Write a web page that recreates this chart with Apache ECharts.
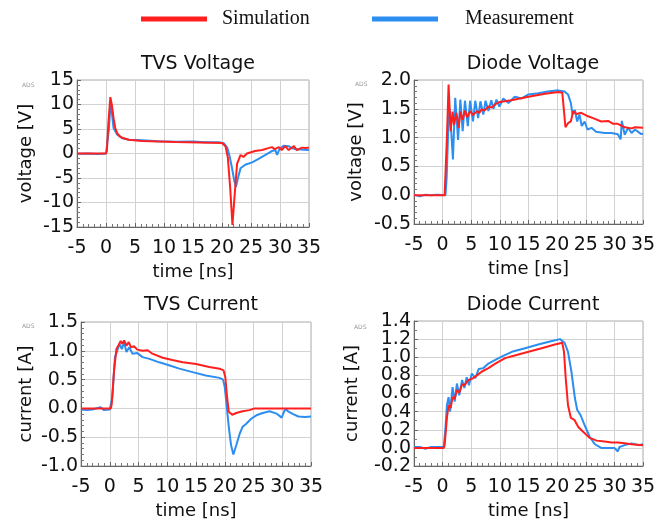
<!DOCTYPE html>
<html>
<head>
<meta charset="utf-8">
<script src="https://cdn.jsdelivr.net/npm/echarts@6/dist/echarts.min.js"></script>
<style>html,body{margin:0;padding:0;background:#fff;}#c{width:670px;height:525px;}</style>
</head>
<body>
<div id="c"></div>
<script>
// ---------- data ----------
const seriesNames = ['Simulation', 'Measurement'];
const panelTitles = ['TVS Voltage', 'Diode Voltage', 'TVS Current', 'Diode Current'];
const yNames = ['voltage [V]', 'voltage [V]', 'current [A]', 'current [A]'];
const xName = 'time [ns]';
const xRange = [-5, 35, 5];
const yRanges = [[-15, 15, 5], [-0.5, 2, 0.5], [-1, 1.5, 0.5], [-0.2, 1.4, 0.2]];

const tvsV_sim = [[-5,0],[0,0],[0.15,0.5],[0.4,6],[0.75,11.5],[1.0,10],[1.3,7.2],[1.6,5.2],[1.9,4.2],[2.3,3.6],[2.8,3.2],[3.9,2.8],[6.2,2.55],[9,2.45],[12,2.35],[16,2.25],[20,2.15],[20.6,1.5],[21,-0.8],[21.4,-6.8],[21.8,-14.6],[22.2,-8.2],[22.6,-2.1],[23.2,-0.3],[23.7,-0.7],[24.3,0],[25.7,0.5],[26.9,0.7],[28,1.1],[28.6,1.3],[29.1,0.9],[29.8,1.3],[30.3,0.7],[30.9,1.5],[31.5,0.7],[32.4,1.5],[32.9,0.7],[33.8,1.2],[34.4,1.1],[35,1.2]];
const tvsV_meas = [[-5,-0.05],[-3,0],[-1.5,-0.1],[0,0],[0.2,0.3],[0.5,5],[0.8,10.6],[1.0,8.5],[1.3,5.2],[1.9,3.9],[2.8,3.1],[4,2.8],[6.2,2.7],[9,2.5],[12,2.4],[15,2.45],[17,2.3],[19.4,2.3],[20.3,2.1],[20.9,1.2],[21.3,-0.5],[21.7,-2.8],[22.1,-5.5],[22.4,-6.8],[22.8,-4.8],[23.2,-3],[24,-2.3],[25.2,-1.8],[26.3,-1.1],[27.5,-0.3],[28.6,0.5],[29.2,0.7],[29.5,-0.3],[29.9,0.9],[30.6,1.6],[31.5,1.5],[32,1.1],[32.6,0.9],[33.5,0.8],[35,0.7]];

const diodeV_sim = [[-5,0],[0.35,0],[0.75,1.0],[1.04,1.92],[1.4,1.11],[1.74,1.45],[2.0,1.22],[2.4,1.43],[2.8,1.17],[3.1,1.45],[3.5,1.31],[3.9,1.47],[4.3,1.35],[4.8,1.46],[5.3,1.39],[6,1.46],[6.4,1.43],[6.8,1.49],[7.3,1.47],[8,1.54],[8.5,1.52],[9.2,1.58],[10,1.62],[12,1.65],[15,1.71],[17.9,1.76],[20.2,1.79],[20.9,1.78],[21.2,1.46],[21.45,1.18],[21.9,1.25],[22.4,1.28],[22.8,1.46],[23.4,1.41],[24.2,1.43],[25.4,1.37],[26.5,1.33],[27.7,1.28],[28.9,1.29],[29.8,1.24],[30.6,1.24],[31.8,1.18],[33,1.16],[33.6,1.18],[35,1.17]];
const diodeV_meas = [[-5,0.01],[-4,-0.02],[-3,0.01],[-2,0],[-1,0.01],[0.5,0],[0.7,0.3],[1.0,1.2],[1.2,1.51],[1.5,1.11],[1.8,0.62],[2.2,1.69],[2.7,0.96],[3.1,1.66],[3.5,1.11],[3.9,1.64],[4.4,1.2],[4.8,1.64],[5.3,1.28],[5.7,1.64],[6.2,1.34],[6.6,1.63],[7.1,1.40],[7.5,1.64],[8.0,1.46],[8.5,1.65],[8.9,1.50],[9.4,1.66],[9.9,1.54],[10.6,1.68],[11.5,1.60],[12.6,1.71],[13.8,1.68],[15,1.75],[16.7,1.77],[18.4,1.80],[20.2,1.82],[21.3,1.80],[21.9,1.75],[22.4,1.60],[22.7,1.40],[23.1,1.48],[23.5,1.28],[23.9,1.40],[24.3,1.20],[24.8,1.28],[25.3,1.14],[26,1.17],[26.8,1.10],[28.3,1.08],[29.5,1.08],[30.6,1.06],[31.1,0.97],[31.3,1.29],[31.8,1.05],[32.4,1.17],[33,1.08],[33.6,1.14],[34.7,1.06],[35,1.07]];

const tvsI_sim = [[-5,0],[0.2,0],[0.35,0.08],[0.75,0.66],[1.16,1.03],[1.5,1.09],[1.9,1.17],[2.2,1.12],[2.5,1.18],[2.9,1.09],[3.3,1.15],[3.7,1.06],[4.2,1.08],[4.8,1.02],[5.7,1.0],[6.6,1.01],[7.4,0.95],[9.2,0.88],[10.9,0.84],[12.7,0.80],[15,0.77],[17.3,0.72],[19.1,0.69],[19.8,0.66],[20.1,0.54],[20.4,0.20],[20.7,-0.06],[21.3,-0.11],[22,-0.08],[23.1,-0.05],[24.3,-0.03],[25.2,0],[35,0]];
const tvsI_meas = [[-5,-0.02],[-4,-0.03],[-3,-0.02],[-1.6,0.02],[-1,-0.03],[0,-0.02],[0.45,0.2],[0.9,0.89],[1.3,1.0],[1.7,1.12],[2.1,1.03],[2.5,1.15],[2.9,0.98],[3.4,1.06],[3.95,0.95],[4.8,0.96],[5.7,0.89],[6.9,0.86],[8.6,0.80],[10.3,0.75],[12.1,0.69],[14.4,0.63],[16.7,0.57],[19.1,0.53],[19.7,0.50],[20,0.37],[20.3,0.08],[20.7,-0.32],[21.1,-0.64],[21.5,-0.80],[22,-0.64],[22.6,-0.44],[23.1,-0.32],[23.7,-0.27],[24.6,-0.18],[25.5,-0.12],[26.6,-0.08],[27.8,-0.05],[29,-0.09],[29.9,-0.16],[30.3,-0.06],[30.6,-0.01],[31,-0.05],[31.9,-0.10],[32.8,-0.14],[34,-0.15],[35,-0.14]];

const diodeI_sim = [[-5,0],[0.2,0],[0.35,0.03],[0.75,0.33],[1.04,0.47],[1.4,0.44],[1.74,0.56],[2.1,0.54],[2.5,0.64],[2.9,0.61],[3.4,0.70],[3.8,0.69],[4.5,0.75],[5.1,0.76],[6,0.80],[6.8,0.84],[8,0.88],[9.2,0.93],[10.9,0.99],[12.6,1.02],[15,1.06],[17.3,1.10],[19.6,1.14],[20.9,1.16],[21.2,1.06],[21.5,0.77],[21.9,0.47],[22.4,0.33],[23,0.31],[23.7,0.23],[24.5,0.18],[25.7,0.11],[26.9,0.08],[28.3,0.07],[29.5,0.06],[30.6,0.06],[31.8,0.05],[33,0.04],[35,0.03]];
const diodeI_meas = [[-5,0.01],[-4,0.01],[-3,-0.01],[-2,0.01],[-1,0.01],[0.2,0.01],[0.5,0.22],[0.75,0.47],[1.04,0.56],[1.3,0.40],[1.74,0.67],[2.1,0.51],[2.5,0.71],[2.9,0.58],[3.4,0.75],[3.8,0.66],[4.2,0.78],[4.6,0.69],[5.1,0.82],[5.7,0.77],[6.3,0.87],[7.1,0.88],[8,0.93],[9.2,0.97],[10.4,1.01],[12.1,1.06],[14.4,1.10],[16.7,1.14],[19.1,1.18],[20.5,1.20],[21.3,1.16],[21.9,1.06],[22.5,0.84],[23.1,0.55],[23.5,0.42],[24.1,0.36],[24.8,0.25],[25.7,0.12],[26.6,0.04],[27.7,0.0],[28.9,0.0],[30,0.0],[30.6,-0.04],[30.9,0.01],[31.8,0.03],[33,0.05],[34.2,0.03],[35,0.04]];

const simData = [tvsV_sim, diodeV_sim, tvsI_sim, diodeI_sim];
const measData = [tvsV_meas, diodeV_meas, tvsI_meas, diodeI_meas];

// ---------- layout / style ----------
const RED = '#ff1f1f', BLUE = '#2b8ef0';
const grids = [
  {left: 77, top: 80, width: 232, height: 147},
  {left: 414, top: 80, width: 229, height: 144},
  {left: 81, top: 322, width: 230, height: 144},
  {left: 414, top: 321, width: 229, height: 145}
];
const yNameGaps = [42, 49, 46, 53];
const titleCenters = [[193, 50], [528, 50], [196, 291], [528, 291]];
const adsPos = [[22, 82], [355, 81], [22, 323], [354, 324]];
const FONT = 'DejaVu Sans';

const axisCommon = {
  axisLine: {show: true, onZero: false, lineStyle: {color: '#666', width: 1}},
  axisTick: {show: true, inside: true, length: 4, lineStyle: {color: '#666'}},
  minorTick: {show: true, splitNumber: 5, length: 3, lineStyle: {color: '#777'}},
  splitLine: {show: true, lineStyle: {color: '#d2d2d2', width: 1}},
  axisLabel: {color: '#111', fontFamily: FONT, fontSize: 19, showMinLabel: true, showMaxLabel: true, hideOverlap: false},
  nameTextStyle: {color: '#111', fontFamily: FONT, fontSize: 18},
  nameLocation: 'middle'
};

function fmtY(i, v) {
  return i === 0 ? String(Math.round(v)) : (Math.abs(v) < 1e-9 ? '0.0' : v.toFixed(1));
}
// Diode current axis has dense ticks: split its labels over two stacked label axes
function tickIndex(i, v) { return Math.round((v - yRanges[i][0]) / yRanges[i][2]); }

const yAxes = grids.map((g, i) => Object.assign({}, axisCommon, {
  type: 'value', gridIndex: i, position: 'left', min: yRanges[i][0], max: yRanges[i][1], interval: yRanges[i][2],
  name: yNames[i], nameGap: yNameGaps[i], nameRotate: 90,
  minorTick: Object.assign({}, axisCommon.minorTick, {splitNumber: i === 3 ? 2 : 5}),
  axisLabel: Object.assign({}, axisCommon.axisLabel, {
    margin: 3,
    formatter: v => (i === 3 && tickIndex(i, v) % 2 === 1) ? '' : fmtY(i, v)
  })
}));
yAxes.push({
  type: 'value', gridIndex: 3, position: 'left', offset: 0,
  min: yRanges[3][0], max: yRanges[3][1], interval: yRanges[3][2],
  axisLine: {show: false}, axisTick: {show: false}, minorTick: {show: false}, splitLine: {show: false},
  axisLabel: {color: '#111', fontFamily: FONT, fontSize: 19, margin: 3,
    showMinLabel: false, showMaxLabel: false, hideOverlap: false,
    formatter: v => tickIndex(3, v) % 2 === 1 ? fmtY(3, v) : ''}
});

const option = {
  animation: false,
  backgroundColor: '#fff',
  title: panelTitles.map((t, i) => ({
    text: t, left: titleCenters[i][0], top: titleCenters[i][1], textAlign: 'center',
    textStyle: {fontFamily: FONT, fontSize: 19, fontWeight: 'normal', color: '#111'}
  })),
  legend: [
    {data: ['Simulation'], left: 136, top: 4, icon: 'rect', itemWidth: 66, itemHeight: 5,
     textStyle: {fontFamily: 'Liberation Serif', fontSize: 20, color: '#111', padding: [0, 0, 0, 10]}},
    {data: ['Measurement'], left: 367, top: 4, icon: 'rect', itemWidth: 66, itemHeight: 5,
     textStyle: {fontFamily: 'Liberation Serif', fontSize: 20, color: '#111', padding: [0, 0, 0, 22]}}
  ],
  grid: grids.map(g => Object.assign({show: true, borderColor: '#aaa', borderWidth: 1, containLabel: false}, g)),
  xAxis: grids.map((g, i) => Object.assign({}, axisCommon, {
    type: 'value', gridIndex: i, min: xRange[0], max: xRange[1], interval: xRange[2],
    name: xName, nameGap: 36,
    axisLabel: Object.assign({}, axisCommon.axisLabel, {margin: 12})
  })),
  yAxis: yAxes,
  series: [].concat(
    measData.map((d, i) => ({
      name: 'Measurement', type: 'line', xAxisIndex: i, yAxisIndex: i, data: d,
      showSymbol: false, symbol: 'none', lineStyle: {color: BLUE, width: 2}, itemStyle: {color: BLUE}, z: 2
    })),
    simData.map((d, i) => ({
      name: 'Simulation', type: 'line', xAxisIndex: i, yAxisIndex: i, data: d,
      showSymbol: false, symbol: 'none', lineStyle: {color: RED, width: 2}, itemStyle: {color: RED}, z: 3
    }))
  ),
  graphic: adsPos.map(p => ({
    type: 'text', left: p[0], top: p[1],
    style: {text: 'ADS', fill: '#999', font: '6px ' + FONT}
  }))
};

const chart = echarts.init(document.getElementById('c'), null, {renderer: 'canvas'});
chart.setOption(option);
</script>
</body>
</html>
